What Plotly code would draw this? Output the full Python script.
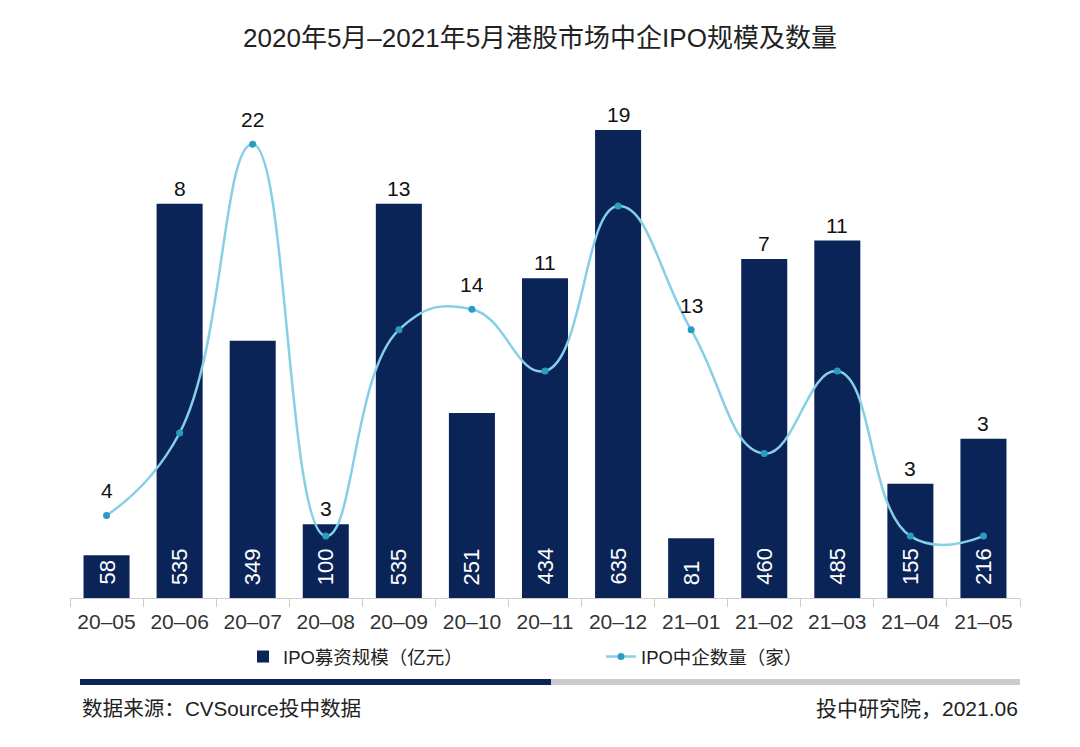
import plotly.graph_objects as go

categories = ["20–05", "20–06", "20–07", "20–08", "20–09", "20–10", "20–11",
              "20–12", "21–01", "21–02", "21–03", "21–04", "21–05"]
ipo_size = [58, 535, 349, 100, 535, 251, 434, 635, 81, 460, 485, 155, 216]
ipo_count = [4, 8, 22, 3, 13, 14, 11, 19, 13, 7, 11, 3, 3]

NAVY = "#0b2458"
LINE = "#86cfe6"
MARK = "#2a9cc4"
FONT = "Liberation Sans, Noto Sans CJK SC, sans-serif"

OFF = 8  # page body margin
W, H = 1080 - OFF, 747 - OFF
L, R, T = 70 - OFF, 60, 110 - OFF
AXIS_Y = 598 - OFF
B = H - AXIS_Y
plot_w = W - L - R
plot_h = AXIS_Y - T
y1_max = plot_h / 0.737
y2_max = plot_h / 20.63


def px_x(p):
    return (p - OFF - L) / plot_w


def px_y(p):
    return (AXIS_Y - (p - OFF)) / plot_h


fig = go.Figure()
fig.add_trace(go.Bar(
    x=categories, y=ipo_size, name="IPO募资规模（亿元）",
    marker=dict(color=NAVY, line=dict(width=0)),
    hoverinfo="skip", legend="legend",
))
fig.add_trace(go.Scatter(
    x=categories, y=ipo_count, name="IPO中企数量（家）", yaxis="y2",
    mode="lines+markers", line=dict(color=LINE, width=2.5, shape="spline", smoothing=1.3),
    marker=dict(color=MARK, size=7),
    hoverinfo="skip", legend="legend2",
))

# bar value labels (rotated, near base)
for c, s in zip(categories, ipo_size):
    fig.add_annotation(x=c, y=0, yref="y", text=str(s), showarrow=False,
                       textangle=-90, yanchor="bottom", yshift=11,
                       font=dict(size=22, color="white", family=FONT))

# count labels: placed above whichever mark is higher
for c, s, n in zip(categories, ipo_size, ipo_count):
    bar_px = s / y1_max * plot_h
    pt_px = n / y2_max * plot_h
    if bar_px >= pt_px:
        fig.add_annotation(x=c, y=s, yref="y", text=str(n), showarrow=False,
                           yanchor="bottom", yshift=2,
                           font=dict(size=21, color="#111", family=FONT))
    else:
        fig.add_annotation(x=c, y=n, yref="y2", text=str(n), showarrow=False,
                           yanchor="bottom", yshift=11,
                           font=dict(size=21, color="#111", family=FONT))

fig.add_shape(type="rect", xref="paper", yref="paper",
              x0=px_x(80), x1=px_x(551), y0=px_y(685), y1=px_y(679),
              fillcolor=NAVY, line=dict(width=0))
fig.add_shape(type="rect", xref="paper", yref="paper",
              x0=px_x(551), x1=px_x(1020), y0=px_y(685), y1=px_y(679),
              fillcolor="#cccccc", line=dict(width=0))

fig.add_annotation(xref="paper", yref="paper", x=px_x(80), y=px_y(708),
                   xanchor="left", yanchor="middle", showarrow=False,
                   text="数据来源：CVSource投中数据",
                   font=dict(size=20.6, color="#222", family=FONT))
fig.add_annotation(xref="paper", yref="paper", x=px_x(1020), y=px_y(708),
                   xanchor="right", yanchor="middle", showarrow=False,
                   text="投中研究院，2021.06",
                   font=dict(size=21, color="#222", family=FONT))

legend_common = dict(orientation="h", yanchor="middle", xanchor="left",
                     font=dict(size=18.5, color="#222", family=FONT),
                     bgcolor="rgba(0,0,0,0)", borderwidth=0)

fig.update_layout(
    width=W, height=H,
    margin=dict(l=L, r=R, t=T, b=B),
    paper_bgcolor="white", plot_bgcolor="white",
    title=dict(text="2020年5月–2021年5月港股市场中企IPO规模及数量",
               x=0.5 - (OFF / 2) / W, xanchor="center", y=1 - (38 - OFF) / H, yanchor="middle",
               font=dict(size=26, color="#222", family=FONT)),
    bargap=0.37,
    showlegend=True,
    legend=dict(x=px_x(243), y=px_y(657), **legend_common),
    legend2=dict(x=px_x(601), y=px_y(657), **legend_common),
    xaxis=dict(range=[-0.5, len(categories) - 0.5],
               showline=True, linecolor="#cccccc", linewidth=1,
               ticks="outside", tickson="boundaries", ticklen=8, tickcolor="#cccccc",
               ticklabelstandoff=5,
               tickfont=dict(size=21, color="#333", family=FONT),
               showgrid=False, fixedrange=True),
    yaxis=dict(range=[0, y1_max], visible=False, showgrid=False, fixedrange=True),
    yaxis2=dict(range=[0, y2_max], overlaying="y", side="right", visible=False,
                showgrid=False, fixedrange=True),
)

fig.write_html("out.html")
